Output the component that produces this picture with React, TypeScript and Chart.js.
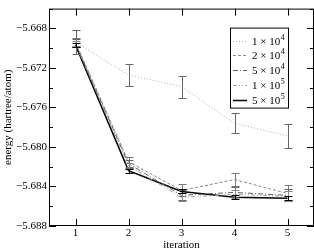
import React, { useEffect, useRef } from 'react';
import { Chart, registerables } from 'chart.js';
Chart.register(...registerables);

const iterations = [1, 2, 3, 4, 5];
const xTicks = [1, 2, 3, 4, 5];
const yMajorTicks = [-5.688, -5.684, -5.68, -5.676, -5.672, -5.668];
const yMinorTicks = [-5.686, -5.682, -5.678, -5.674, -5.67, -5.666];

const legendBase = ['1', '2', '5', '1', '5'];
const legendExp = ['4', '4', '4', '5', '5'];

const e1e4 = [-5.6694, -5.6727, -5.6739, -5.6776, -5.6789];
const err1e4 = [0.0012, 0.0011, 0.0011, 0.001, 0.0012];
const e2e4 = [-5.6694, -5.6815, -5.6844, -5.6833, -5.6847];
const err2e4 = [0.0004, 0.0005, 0.0006, 0.0007, 0.0008];
const e5e4 = [-5.6695, -5.6817, -5.6849, -5.6846, -5.6849];
const err5e4 = [0.0004, 0.0004, 0.0005, 0.0005, 0.0006];
const e1e5 = [-5.6696, -5.6819, -5.6851, -5.6848, -5.685];
const err1e5 = [0.0003, 0.0003, 0.0004, 0.0004, 0.0005];
const e5e5 = [-5.6697, -5.6824, -5.6845, -5.6851, -5.6852];
const err5e5 = [0.0002, 0.0002, 0.0002, 0.0002, 0.0002];

const seriesValues = [e1e4, e2e4, e5e4, e1e5, e5e5];
const seriesErrors = [err1e4, err2e4, err5e4, err1e5, err5e5];
const seriesColors = ['#b0b0b0', '#888888', '#606060', '#a0a0a0', '#000000'];
const errColors = ['#666666', '#777777', '#666666', '#888888', '#000000'];
const seriesDash: number[][] = [[1, 2], [3, 2], [5, 2, 1, 2], [4, 2, 1, 2, 1, 2], []];
const seriesWidth = [1, 1, 1, 1, 1.5];

const FONT = '"Liberation Serif"';

const overlay = {
  id: 'overlay',
  afterDatasetsDraw(chart: any) {
    const ctx = chart.ctx;
    const xs = chart.scales.x;
    const ys = chart.scales.y;
    const { left, right, top, bottom } = chart.chartArea;
    ctx.save();
    seriesValues.forEach((vals, si) => {
      ctx.strokeStyle = errColors[si];
      ctx.lineWidth = 1;
      ctx.setLineDash([]);
      vals.forEach((v, i) => {
        const x = Math.round(xs.getPixelForValue(iterations[i])) + 0.5;
        const y1 = Math.round(ys.getPixelForValue(v + seriesErrors[si][i])) + 0.5;
        const y2 = Math.round(ys.getPixelForValue(v - seriesErrors[si][i])) + 0.5;
        ctx.beginPath();
        ctx.moveTo(x, y1); ctx.lineTo(x, y2);
        ctx.moveTo(x - 4, y1); ctx.lineTo(x + 4, y1);
        ctx.moveTo(x - 4, y2); ctx.lineTo(x + 4, y2);
        ctx.stroke();
      });
    });
    ctx.strokeStyle = '#000';
    ctx.lineWidth = 1;
    ctx.strokeRect(left + 0.5, top + 0.5, right - left - 1, bottom - top - 1);
    ctx.beginPath();
    yMajorTicks.forEach((v) => {
      const y = Math.round(ys.getPixelForValue(v)) + 0.5;
      ctx.moveTo(left, y); ctx.lineTo(left + 7, y);
      ctx.moveTo(right, y); ctx.lineTo(right - 7, y);
    });
    yMinorTicks.forEach((v) => {
      const y = Math.round(ys.getPixelForValue(v)) + 0.5;
      ctx.moveTo(left, y); ctx.lineTo(left + 4, y);
      ctx.moveTo(right, y); ctx.lineTo(right - 4, y);
    });
    xTicks.forEach((v) => {
      const x = Math.round(xs.getPixelForValue(v)) + 0.5;
      ctx.moveTo(x, bottom); ctx.lineTo(x, bottom - 7);
      ctx.moveTo(x, top); ctx.lineTo(x, top + 7);
    });
    ctx.stroke();
    const bw = 58, bh = 80;
    const bx = right - 26 - bw;
    const by = top + 19;
    ctx.fillStyle = '#fff';
    ctx.fillRect(bx, by, bw, bh);
    ctx.strokeStyle = '#000';
    ctx.strokeRect(bx + 0.5, by + 0.5, bw, bh);
    legendBase.forEach((b, i) => {
      const y = Math.round(by + 13 + i * 14.75) + 0.5;
      ctx.strokeStyle = seriesColors[i];
      ctx.lineWidth = seriesWidth[i];
      ctx.setLineDash(seriesDash[i]);
      ctx.beginPath();
      ctx.moveTo(bx + 3, y); ctx.lineTo(bx + 17, y);
      ctx.stroke();
      ctx.setLineDash([]);
      ctx.fillStyle = '#000';
      ctx.textBaseline = 'middle';
      ctx.textAlign = 'left';
      ctx.font = '11px ' + FONT;
      const t = b + ' \u00d7 10';
      ctx.fillText(t, bx + 22, y + 1);
      const w = ctx.measureText(t).width;
      ctx.font = '8px ' + FONT;
      ctx.fillText(legendExp[i], bx + 22 + w + 0.5, y - 4);
    });
    ctx.restore();
  },
};

export default function App() {
  const ref = useRef<HTMLCanvasElement>(null);
  useEffect(() => {
    document.body.style.margin = '0';
    const chart = new Chart(ref.current!, {
      type: 'line',
      data: {
        datasets: seriesValues.map((vals, si) => ({
          label: legendBase[si] + 'e' + legendExp[si],
          data: vals.map((v, i) => ({ x: iterations[i], y: v })),
          borderColor: seriesColors[si],
          borderWidth: seriesWidth[si],
          borderDash: seriesDash[si],
          pointRadius: 0,
          fill: false,
          tension: 0,
        })),
      },
      options: {
        animation: false,
        responsive: false,
        layout: { autoPadding: false, padding: { top: 1, right: 0, left: 0, bottom: 0 } },
        plugins: { legend: { display: false }, tooltip: { enabled: false } },
        scales: {
          x: {
            type: 'linear',
            min: 0.5,
            max: 5.5,
            afterBuildTicks: (s: any) => { s.ticks = xTicks.map((v) => ({ value: v })); },
            afterFit: (s: any) => { s.height = 25; },
            grid: { display: false, drawTicks: false },
            border: { display: false },
            ticks: { color: '#000', font: { family: FONT, size: 11 }, padding: 1, maxRotation: 0, callback: (v: any) => String(v) },
            title: { display: true, text: 'iteration', color: '#000', font: { family: FONT, size: 11 }, padding: { top: 0, bottom: -1 } },
          },
          y: {
            type: 'linear',
            min: -5.688,
            max: -5.666,
            afterBuildTicks: (s: any) => { s.ticks = yMajorTicks.map((v) => ({ value: v })); },
            afterFit: (s: any) => { s.width = 49; },
            grid: { display: false, drawTicks: false },
            border: { display: false },
            ticks: { color: '#000', font: { family: FONT, size: 11 }, padding: 2, callback: (v: any) => Number(v).toFixed(3).replace('-', '\u2212') },
            title: { display: true, text: 'energy (hartree/atom)', color: '#000', font: { family: FONT, size: 11 }, padding: { top: 2, bottom: 0 } },
          },
        },
      },
      plugins: [overlay],
    });
    return () => chart.destroy();
  }, []);
  return <canvas ref={ref} width={314} height={251} style={{ display: 'block', width: 314, height: 251 }} />;
}
